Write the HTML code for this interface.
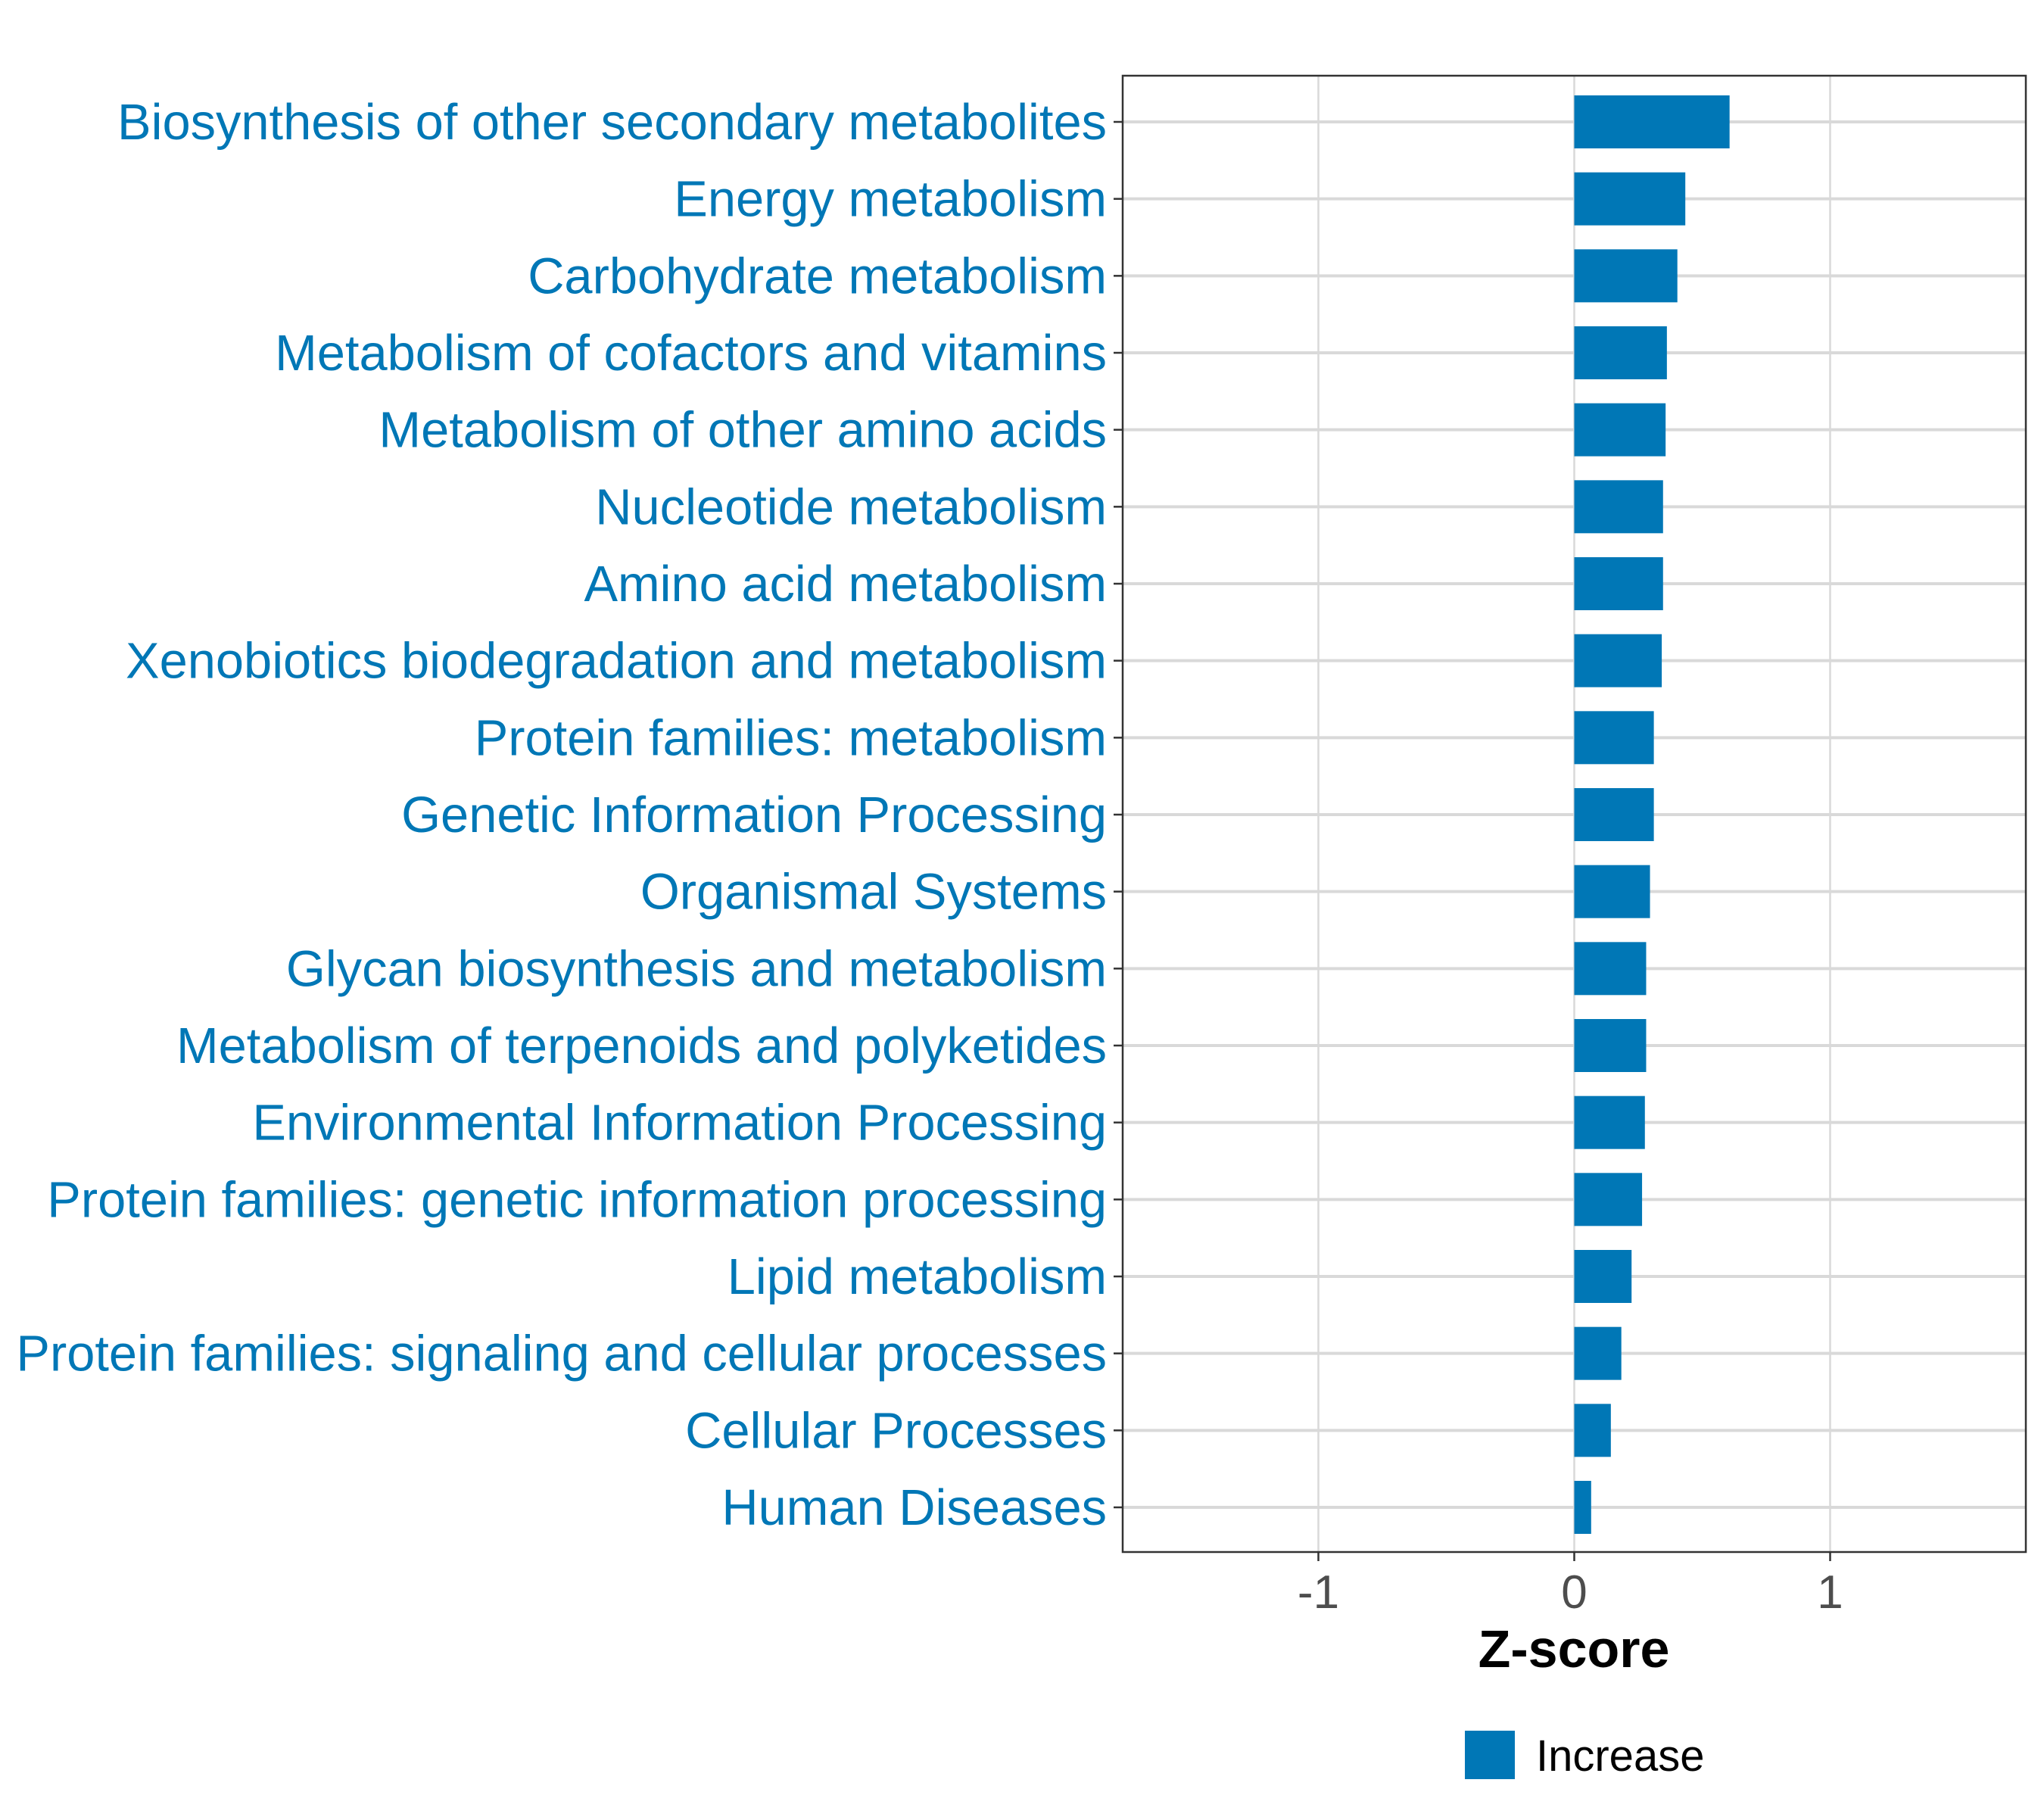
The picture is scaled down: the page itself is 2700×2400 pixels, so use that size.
<!DOCTYPE html>
<html><head><meta charset="utf-8"><style>
html,body{margin:0;padding:0;background:#fff;}
svg{display:block;font-family:"Liberation Sans",sans-serif;}
</style></head><body>
<svg id="chart" width="2700" height="2400" viewBox="0 0 2700 2400" xmlns="http://www.w3.org/2000/svg">
<g id="grid"></g><g id="bars"></g><g id="ylabels"></g><g id="xticks"></g>
<rect x="1483" y="100" width="1193" height="1950" fill="none" stroke="#333" stroke-width="2.5"/>
<text x="2079" y="2202" font-size="70" font-weight="bold" text-anchor="middle" fill="#000">Z-score</text>
<rect x="1935" y="2286" width="66" height="64" fill="#0077b6"/>
<text x="2029" y="2339" font-size="58" fill="#000">Increase</text>
</svg>
<script>
const categories=["Biosynthesis of other secondary metabolites","Energy metabolism","Carbohydrate metabolism","Metabolism of cofactors and vitamins","Metabolism of other amino acids","Nucleotide metabolism","Amino acid metabolism","Xenobiotics biodegradation and metabolism","Protein families: metabolism","Genetic Information Processing","Organismal Systems","Glycan biosynthesis and metabolism","Metabolism of terpenoids and polyketides","Environmental Information Processing","Protein families: genetic information processing","Lipid metabolism","Protein families: signaling and cellular processes","Cellular Processes","Human Diseases"];
const zscores=[0.607,0.434,0.403,0.362,0.357,0.347,0.347,0.342,0.311,0.311,0.296,0.281,0.281,0.276,0.265,0.224,0.184,0.143,0.066];
const xTicks=[-1,0,1];
const tickLabels=["-1","0","1"];
const NS="http://www.w3.org/2000/svg";
const X0=1483,X1=2676,Y0=100,Y1=2050,XMIN=-1.7648,XMAX=1.7648;
function xs(v){return X0+(v-XMIN)/(XMAX-XMIN)*(X1-X0);}
const n=categories.length;
function ys(i){return 161+i*(1991-161)/(n-1);}
function mk(tag,a,parent){const e=document.createElementNS(NS,tag);for(const k in a)e.setAttribute(k,a[k]);document.getElementById(parent).appendChild(e);return e;}
xTicks.forEach((t,i)=>{
 const g=mk('line',{x1:xs(t),x2:xs(t),y1:Y0,y2:Y1,stroke:'#d9d9d9','stroke-width':2.5},'grid');
 
 
 const tk=mk('line',{x1:xs(t),x2:xs(t),y1:Y1,y2:Y1+12,stroke:'#333','stroke-width':2.5},'xticks');
 
 
 const tl=mk('text',{x:xs(t),y:2124,'font-size':62,'text-anchor':'middle',fill:'#4d4d4d'},'xticks');
 tl.textContent=tickLabels[i];
 
 
});
categories.forEach((c,i)=>{
 const y=ys(i);
 const g=mk('line',{x1:X0,x2:X1,y1:y,y2:y,stroke:'#d9d9d9','stroke-width':4},'grid');
 
 
 const v=zscores[i];
 const b=mk('rect',{x:Math.min(xs(0),xs(v)),y:y-35,width:Math.abs(xs(v)-xs(0)),height:70,fill:'#0077b6'},'bars');
 
 
 const tk=mk('line',{x1:X0-12,x2:X0,y1:y,y2:y,stroke:'#333','stroke-width':2.5},'ylabels');
 
 
 const t=mk('text',{x:1462,y:y+23,'font-size':66.8,'text-anchor':'end',fill:'#0077b6'},'ylabels');
 t.textContent=c;
 
 
});
</script>
</body></html>
